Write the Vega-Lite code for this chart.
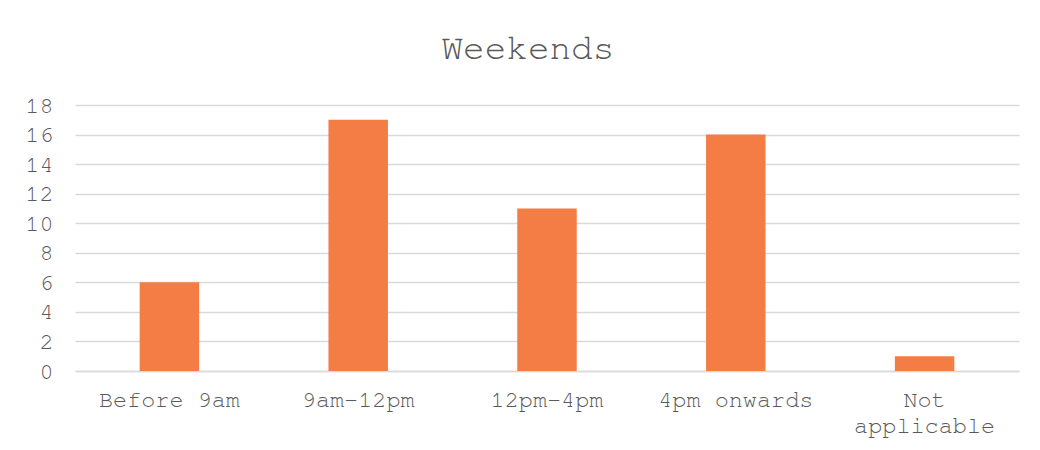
{
  "$schema": "https://vega.github.io/schema/vega-lite/v6.json",
  "autosize": "none",
  "width": 944,
  "height": 266,
  "padding": {"left": 75, "top": 105, "right": 21, "bottom": 79},
  "background": "white",
  "title": {
    "text": "Weekends",
    "font": "Nimbus Mono PS, FreeMono, Courier, Liberation Mono",
    "fontSize": 36,
    "fontWeight": "normal",
    "color": "#595959",
    "anchor": "middle",
    "frame": "bounds",
    "offset": 26,
    "dx": 6
  },
  "data": {
    "values": [
      {"slot": "Before 9am", "count": 6},
      {"slot": "9am-12pm", "count": 17},
      {"slot": "12pm-4pm", "count": 11},
      {"slot": "4pm onwards", "count": 16},
      {"slot": "Not applicable", "count": 1}
    ]
  },
  "mark": {"type": "bar", "color": "#F37D45", "width": {"band": 0.315}},
  "encoding": {
    "x": {
      "field": "slot",
      "type": "nominal",
      "sort": null,
      "scale": {"paddingInner": 0, "paddingOuter": 0},
      "axis": {
        "title": null,
        "labelAngle": 0,
        "ticks": false,
        "domainColor": "#D9D9D9",
        "domainWidth": 1.5,
        "labelPadding": 16,
        "labelLineHeight": 26,
        "labelExpr": "datum.label == 'Not applicable' ? ['Not', 'applicable'] : datum.label"
      }
    },
    "y": {
      "field": "count",
      "type": "quantitative",
      "scale": {"domain": [0, 18]},
      "axis": {
        "title": null,
        "values": [0, 2, 4, 6, 8, 10, 12, 14, 16, 18],
        "domain": false,
        "ticks": false,
        "labelPadding": 22,
        "gridColor": "#D9D9D9",
        "gridWidth": 1.5
      }
    }
  },
  "config": {
    "view": {"stroke": null},
    "axis": {
      "labelFont": "Nimbus Mono PS, FreeMono, Courier, Liberation Mono",
      "labelFontSize": 23.5,
      "labelColor": "#595959"
    }
  }
}
